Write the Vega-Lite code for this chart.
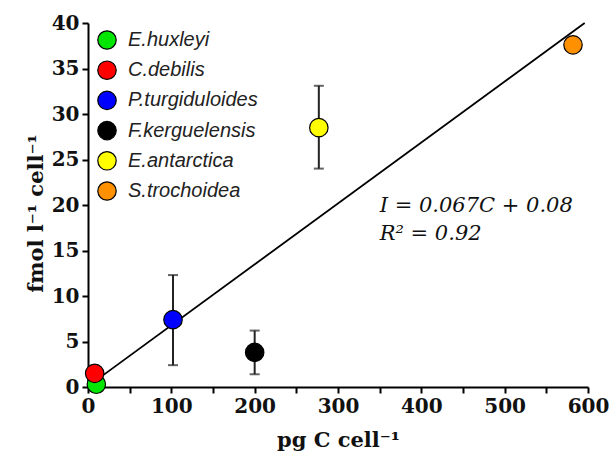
{
  "$schema": "https://vega.github.io/schema/vega-lite/v6.json",
  "width": 500,
  "height": 364,
  "autosize": {"type": "none"},
  "padding": {"left": 88, "top": 23, "right": 23, "bottom": 69},
  "background": "white",
  "config": {
    "view": {"stroke": null},
    "axis": {
      "grid": false,
      "domainColor": "black",
      "domainWidth": 2,
      "tickColor": "black",
      "tickWidth": 2,
      "tickSize": 6,
      "labelFont": "DejaVu Serif",
      "labelFontWeight": "bold",
      "labelFontSize": 20,
      "labelColor": "#111",
      "titleFont": "DejaVu Serif",
      "titleFontWeight": "bold",
      "titleFontSize": 21,
      "titleColor": "#111"
    }
  },
  "datasets": {
    "pts": [
      {"species": "E.huxleyi", "C": 10, "I": 0.3},
      {"species": "C.debilis", "C": 8, "I": 1.5},
      {"species": "P.turgiduloides", "C": 102, "I": 7.4, "lo": 2.4, "hi": 12.3},
      {"species": "F.kerguelensis", "C": 200, "I": 3.8, "lo": 1.4, "hi": 6.2},
      {"species": "E.antarctica", "C": 277, "I": 28.5, "lo": 24.0, "hi": 33.1},
      {"species": "S.trochoidea", "C": 582, "I": 37.6}
    ],
    "fit": [
      {"C": 6, "I": 0.48},
      {"C": 596, "I": 40.0}
    ],
    "eq": [
      {"C": 350, "I": 19.2, "label": "I = 0.067C + 0.08"},
      {"C": 350, "I": 16.2, "label": "R² = 0.92"}
    ]
  },
  "layer": [
    {
      "data": {"name": "fit"},
      "mark": {"type": "line", "color": "black", "strokeWidth": 1.8},
      "encoding": {
        "x": {"field": "C", "type": "quantitative", "scale": {"domain": [0, 600], "nice": false},
          "axis": {"values": [0,50,100,150,200,250,300,350,400,450,500,550,600],
            "labelExpr": "datum.value % 100 === 0 ? datum.label : ''",
            "title": "pg C cell⁻¹", "labelPadding": 3, "titlePadding": 13, "labelFlush": false}},
        "y": {"field": "I", "type": "quantitative", "scale": {"domain": [0, 40], "nice": false},
          "axis": {"values": [0,5,10,15,20,25,30,35,40], "title": "fmol l⁻¹ cell⁻¹", "labelPadding": 3, "titlePadding": 5, "titleY": 190}}
      }
    },
    {
      "data": {"name": "pts"},
      "transform": [{"filter": "isValid(datum.lo)"}],
      "mark": {"type": "rule", "color": "#222", "strokeWidth": 2},
      "encoding": {
        "x": {"field": "C", "type": "quantitative"},
        "y": {"field": "lo", "type": "quantitative"},
        "y2": {"field": "hi"}
      }
    },
    {
      "data": {"name": "pts"},
      "transform": [{"filter": "isValid(datum.lo)"}],
      "mark": {"type": "tick", "orient": "horizontal", "color": "#222", "thickness": 2, "size": 10},
      "encoding": {
        "x": {"field": "C", "type": "quantitative"},
        "y": {"field": "lo", "type": "quantitative"}
      }
    },
    {
      "data": {"name": "pts"},
      "transform": [{"filter": "isValid(datum.lo)"}],
      "mark": {"type": "tick", "orient": "horizontal", "color": "#222", "thickness": 2, "size": 10},
      "encoding": {
        "x": {"field": "C", "type": "quantitative"},
        "y": {"field": "hi", "type": "quantitative"}
      }
    },
    {
      "data": {"name": "pts"},
      "mark": {"type": "point", "filled": true, "shape": "circle", "size": 340, "stroke": "black", "strokeWidth": 1.2, "opacity": 1},
      "encoding": {
        "x": {"field": "C", "type": "quantitative"},
        "y": {"field": "I", "type": "quantitative"},
        "fill": {"field": "species", "type": "nominal",
          "scale": {"domain": ["E.huxleyi", "C.debilis", "P.turgiduloides", "F.kerguelensis", "E.antarctica", "S.trochoidea"],
            "range": ["#00e600", "#ff0000", "#0000ff", "#000000", "#ffff00", "#ff9000"]},
          "legend": {"orient": "none", "legendX": 9, "legendY": 7, "title": null,
            "symbolType": "circle", "symbolSize": 340, "symbolStrokeColor": "black", "symbolStrokeWidth": 1.2,
            "symbolOpacity": 1,
            "labelFont": "Liberation Sans", "labelFontStyle": "italic", "labelFontSize": 20, "labelColor": "#222",
            "rowPadding": 6.2, "labelOffset": 11, "padding": 0}}
      }
    },
    {
      "data": {"name": "eq"},
      "mark": {"type": "text", "align": "left", "baseline": "alphabetic", "font": "DejaVu Serif", "fontStyle": "italic", "fontSize": 21, "color": "#111"},
      "encoding": {
        "x": {"field": "C", "type": "quantitative"},
        "y": {"field": "I", "type": "quantitative"},
        "text": {"field": "label"}
      }
    }
  ]
}
